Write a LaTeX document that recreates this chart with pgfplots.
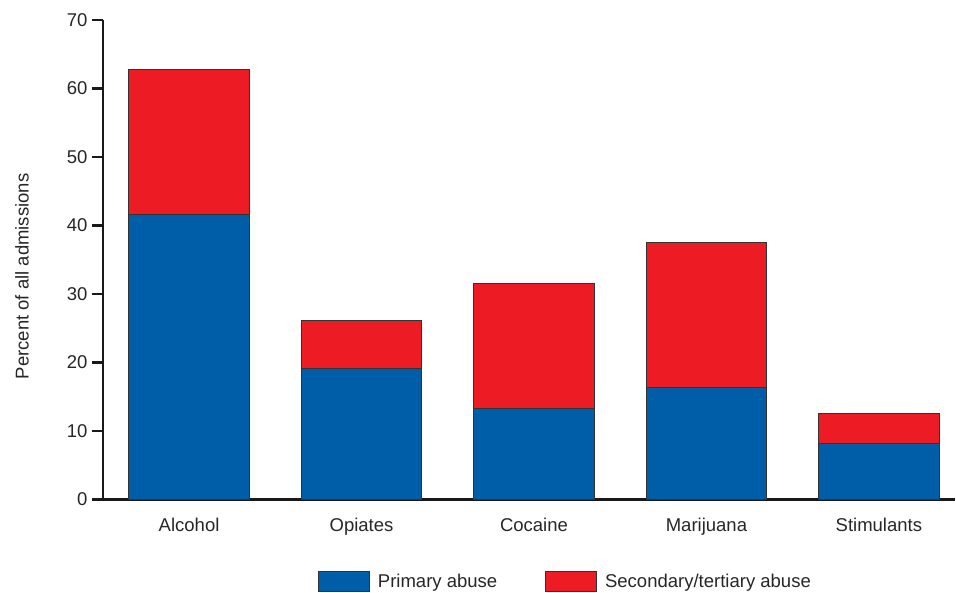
\documentclass[border=0pt]{standalone}
\usepackage{fontspec}
\setmainfont{Liberation Sans}
\usepackage{pgfplots}
\pgfplotsset{compat=1.18}
\definecolor{pblue}{RGB}{0,94,168}
\definecolor{sred}{RGB}{237,28,36}
\newcommand\f{\fontsize{18.6}{22}\selectfont}
\begin{document}
\begin{tikzpicture}
\path (0,0) rectangle (956bp,592bp);
\begin{axis}[
  at={(103bp,92bp)}, anchor=south west,
  scale only axis, width=853bp, height=480bp,
  ybar stacked, bar width=121bp,
  xmin=-0.5, xmax=4.44, ymin=0, ymax=70,
  axis x line*=bottom, axis y line*=left,
  axis line style={-, line width=2.5bp, black!90},
  xtick=data,
  xticklabels={Alcohol,Opiates,Cocaine,Marijuana,Stimulants},
  x tick style={draw=none},
  ytick={0,10,...,70},
  tick align=outside,
  major tick length=11bp,
  y tick style={line width=2.5bp, black!90},
  /pgf/number format/assume math mode=true,
  tick label style={font=\f, text=black!85},
  yticklabel style={xshift=-1bp},
  xticklabel style={yshift=-4bp},
  ylabel={Percent of all admissions},
  every axis y label/.style={at={(axis description cs:-0.095,0.465)}, rotate=90, anchor=center, font=\f, text=black!85},
  legend columns=2,
  legend style={draw=none, fill=none, font=\f, text=black!85, at={(0.543,-0.15)}, anchor=north, inner sep=0pt,
    /tikz/every odd column/.append style={column sep=6bp},
    /tikz/every even column/.append style={column sep=46bp}},
  legend image code/.code={\draw[#1, draw=black!80, line width=1bp] (0bp,-10bp) rectangle (51bp,10bp);},
]
\addplot[fill=pblue, draw=black!80, line width=1bp] coordinates {(0,41.66) (1,19.1) (2,13.22) (3,16.28) (4,8.12)};
\addplot[fill=sred, draw=black!80, line width=1bp] coordinates {(0,21.09) (1,7.05) (2,18.23) (3,21.25) (4,4.47)};
\legend{Primary abuse, Secondary/tertiary abuse}
\end{axis}
\end{tikzpicture}
\end{document}
